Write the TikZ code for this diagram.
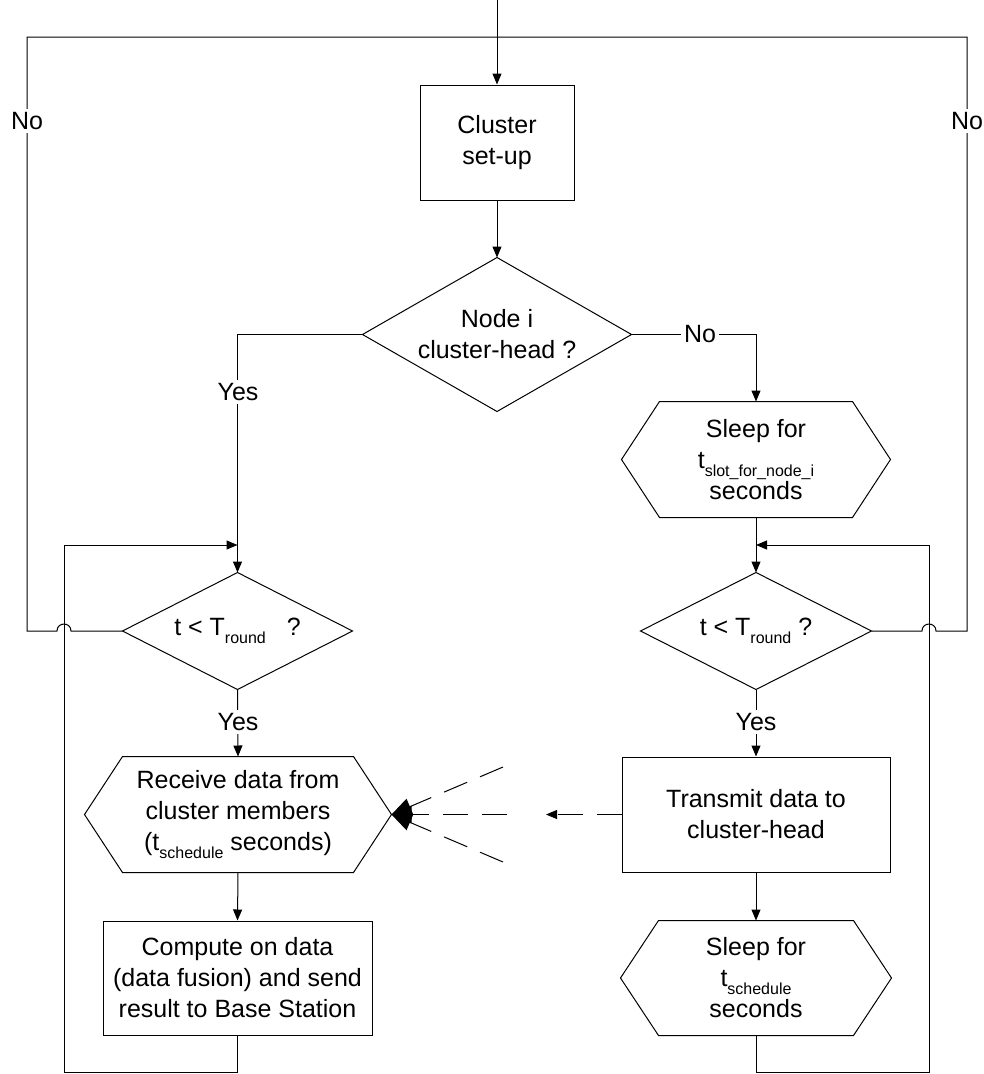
\documentclass[tikz,border=0pt]{standalone}
\usepackage{fontspec}
\setmainfont{Liberation Sans}
\usetikzlibrary{arrows.meta}
% lowered index text (t_round, t_schedule, ...)
\newcommand\lowsub[1]{\raisebox{-8pt}{\fontsize{16}{16}\selectfont #1}}

\begin{document}
\begin{tikzpicture}[x=1pt,y=-1pt,line width=1pt,
  every node/.style={font=\fontsize{25}{31}\selectfont},
  box/.style={draw,inner sep=0pt,align=center},
  shapebox/.style={inner sep=0pt,align=center},
  flow/.style={-{Triangle[length=11pt,width=9pt]}},
  dashline/.style={dash pattern=on 25pt off 14pt},
  bigtip/.style={-{Triangle[length=20pt,width=17pt]}},
  lbl/.style={fill=white,inner sep=3pt}]
\useasboundingbox (0,0) rectangle (983,1074);

% ---- process blocks
\node[box,minimum width=154,minimum height=115] (setup) at (497,142.5) {Cluster\\set-up};
\node[shapebox,minimum width=268,minimum height=153] (dec) at (497,334.5) {Node i\\cluster-head ?};
\node[shapebox,minimum width=268,minimum height=115] (sleepA) at (756,459.5)
  {Sleep for\\t\lowsub{slot\_for\_node\_i}\\seconds};
\node[shapebox,minimum width=229,minimum height=116] (dl) at (237.5,631) {t < T\lowsub{round}\hspace{14pt} ?};
\node[shapebox,minimum width=230,minimum height=116] (dr) at (756,631) {t < T\lowsub{round} ?};
\node[shapebox,minimum width=306,minimum height=115] (recv) at (238,814.5)
  {Receive data from\\cluster members\\(t\lowsub{schedule} seconds)};
\node[box,minimum width=268,minimum height=115] (transmit) at (756,814.5) {Transmit data to\\cluster-head};
\node[box,minimum width=269,minimum height=114] (compute) at (237.5,978)
  {Compute on data\\(data fusion) and send\\result to Base Station};
\node[shapebox,minimum width=270,minimum height=114] (sleepB) at (756,978)
  {Sleep for\\t\lowsub{schedule}\\seconds};

% ---- decision outlines
\foreach \n in {dec,dl,dr}
  \draw (\n.north) -- (\n.east) -- (\n.south) -- (\n.west) -- cycle;
% ---- wait / delay outlines
\foreach \n in {sleepA,recv,sleepB}
  \draw ([xshift=38pt]\n.north west) -- ([xshift=-38pt]\n.north east) -- (\n.east)
    -- ([xshift=-38pt]\n.south east) -- ([xshift=38pt]\n.south west) -- (\n.west) -- cycle;

% ---- routing points
\coordinate (top) at (497,0);
\coordinate (join) at (497,37);
\coordinate (fbL) at (27,37);
\coordinate (fbR) at (967,37);
\coordinate (loopL) at (64,545);
\coordinate (loopR) at (929,545);
\coordinate (baseL) at (64,1072);
\coordinate (baseR) at (929,1072);
\coordinate (relay) at (546,814.5);
\coordinate (fanA) at (503,767);
\coordinate (fanB) at (507,814.5);
\coordinate (fanC) at (503,862);

% ---- main flow
\draw[flow] (top) -- (setup.north);
\draw[flow] (setup.south) -- (dec.north);
\draw[flow] (dec.west) -| (dl.north);
\draw[flow] (dec.east) -| (sleepA.north);
\draw[flow] (sleepA.south) -- (dr.north);
\draw[flow] (dl.south) -- (recv.north);
\draw[flow] (recv.south) -- (compute.north);
\draw[flow] (dr.south) -- (transmit.north);
\draw[flow] (transmit.south) -- (sleepB.north);

% ---- loops back to the round test
\draw[flow] (compute.south) |- (baseL) -- (loopL) -- (loopL -| dl.north);
\draw[flow] (sleepB.south) |- (baseR) -- (loopR) -- (loopR -| dr.north);

% ---- end of round: back to cluster set-up (hopping over the loops)
\draw (dl.west) -- ([xshift=7pt]dl.west -| loopL)
  .. controls +(0pt,9.3pt) and +(0pt,9.3pt) .. ([xshift=-7pt]dl.west -| loopL)
  -- (dl.west -| fbL) -- (fbL) -- (join);
\draw (dr.east) -- ([xshift=-7pt]dr.east -| loopR)
  .. controls +(0pt,9.3pt) and +(0pt,9.3pt) .. ([xshift=7pt]dr.east -| loopR)
  -- (dr.east -| fbR) -- (fbR) -- (join);

% ---- radio link between members and cluster-head
\draw[dashline,flow] (transmit.west) -- (relay);
\draw[dashline,bigtip] (fanA) -- (recv.east);
\draw[dashline,bigtip] (fanB) -- (recv.east);
\draw[dashline,bigtip] (fanC) -- (recv.east);

% ---- branch labels
\node[lbl] (noL) at (27,121) {No};
\node[lbl] (noR) at (967,121) {No};
\node[lbl] (noHead) at (700,334.5) {No};
\node[lbl] (yesHead) at (238,392) {Yes};
\node[lbl] (yesL) at (238,722) {Yes};
\node[lbl] (yesR) at (756,722) {Yes};
\end{tikzpicture}
\end{document}
